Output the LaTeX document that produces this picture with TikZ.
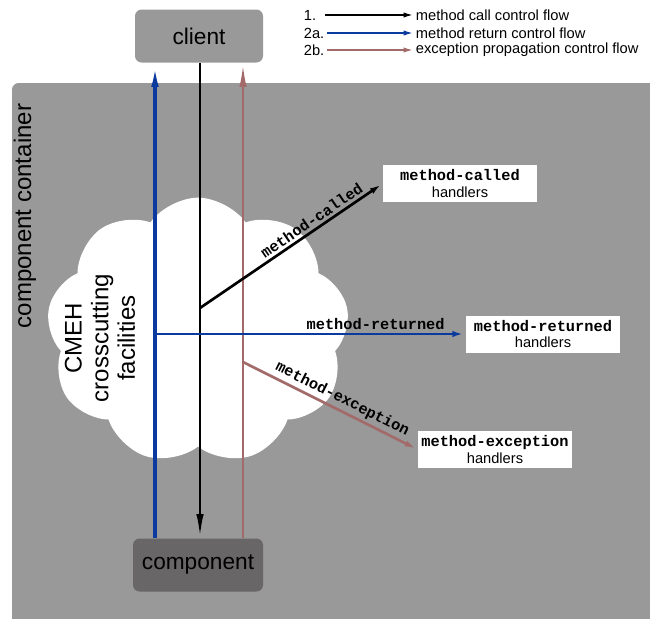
\documentclass[tikz,border=0pt]{standalone}
\usepackage{fontspec}
\setmainfont{Liberation Sans}
\setmonofont{Liberation Mono}
\usetikzlibrary{arrows.meta,positioning,shapes.symbols}
\definecolor{boxgray}{HTML}{999999}
\definecolor{compgray}{HTML}{686666}
\definecolor{retblue}{HTML}{0A3A9E}
\definecolor{excrose}{HTML}{A36A6A}
\begin{document}
\begin{tikzpicture}[x=0.75pt,y=-0.75pt,
  actor/.style={rounded corners=5pt,minimum width=96pt,minimum height=39.75pt,inner sep=0pt,font=\fontsize{17}{20}\selectfont},
  hbox/.style={fill=white,minimum width=115.5pt,minimum height=27.75pt,inner sep=0pt,align=center,font=\fontsize{11}{12.5}\selectfont},
  lbl/.style={text=black,font=\fontsize{11.5}{13}\selectfont\ttfamily\bfseries,inner sep=2pt},
  legtext/.style={anchor=west,inner sep=2pt,font=\fontsize{11}{13}\selectfont},
  flowup/.style={line width=2pt,-{Latex[length=18pt,width=5.5pt]}},
  branch/.style={line width=2pt,-{Latex[length=10pt,width=4.5pt]}},
  legarrow/.style={line width=1.2pt,-{Latex[length=7pt,width=4pt]}}]
  \useasboundingbox (0,0) rectangle (650,618);
  % container and cloud
  \fill[boxgray,rounded corners=5pt] (12,83) rectangle (662,630);
  \node[rotate=90,font=\fontsize{18}{20}\selectfont] (cont) at (25,216) {component container};
  \node[cloud,cloud puffs=9,cloud puff arc=110,fill=white,minimum width=227pt,minimum height=200pt,inner sep=0pt] (cmeh) at (198,331) {};
  \node[rotate=90,align=center,font=\fontsize{18}{20}\selectfont] (cmehtxt) at (100,338) {CMEH\\crosscutting\\facilities};
  % client and component
  \node[actor,fill=boxgray] (client) at (199,36) {client};
  \node[actor,fill=compgray,minimum width=97.5pt] (comp) at (198,565) {component};
  % handlers
  \node[hbox] (mc) at (460,183.5) {{\fontsize{11.5}{13}\selectfont\ttfamily\bfseries method-called}\\handlers};
  \node[hbox] (mr) at (543,334) {{\fontsize{11.5}{13}\selectfont\ttfamily\bfseries method-returned}\\handlers};
  \node[hbox] (me) at (495,449.5) {{\fontsize{11.5}{13}\selectfont\ttfamily\bfseries method-exception}\\handlers};
  % control flow lines
  \coordinate (bx) at (155,0);
  \coordinate (kx) at (200,0);
  \coordinate (rx) at (243,0);
  \coordinate (callpt) at (200,308);
  \coordinate (retpt) at (155,334);
  \coordinate (excpt) at (243,362);
  \draw[flowup,retblue,line width=2.5pt] (comp.north -| bx) -- (client.south -| bx);
  \draw[flowup,black] (client.south -| kx) -- (comp.north -| kx);
  \draw[flowup,excrose] (comp.north -| rx) -- (client.south -| rx);
  \draw[branch,black] (callpt) -- node[lbl,pos=0.64,sloped,above] {method-called} (mc.west);
  \draw[branch,retblue] (retpt) -- node[lbl,pos=0.71,above] {method-returned} (mr.west);
  \draw[branch,excrose] (excpt) -- node[lbl,pos=0.54,sloped,above] {method-exception} (me.west);
  % legend
  \node[legtext,anchor=west] (n1) at (301,15) {1.};
  \node[legtext,anchor=west] (n2) at (301,33) {2a.};
  \node[legtext,anchor=west] (n3) at (301,50) {2b.};
  \node[legtext] (t1) at (413,15) {method call control flow};
  \node[legtext] (t2) at (413,33) {method return control flow};
  \node[legtext] (t3) at (413,50) {exception propagation control flow};
  \draw[legarrow,black] (n1.east -| 325,0) -- (t1.west);
  \draw[legarrow,retblue] (n2.east) -- (t2.west);
  \draw[legarrow,excrose] (n3.east) -- (t3.west);
\end{tikzpicture}
\end{document}
